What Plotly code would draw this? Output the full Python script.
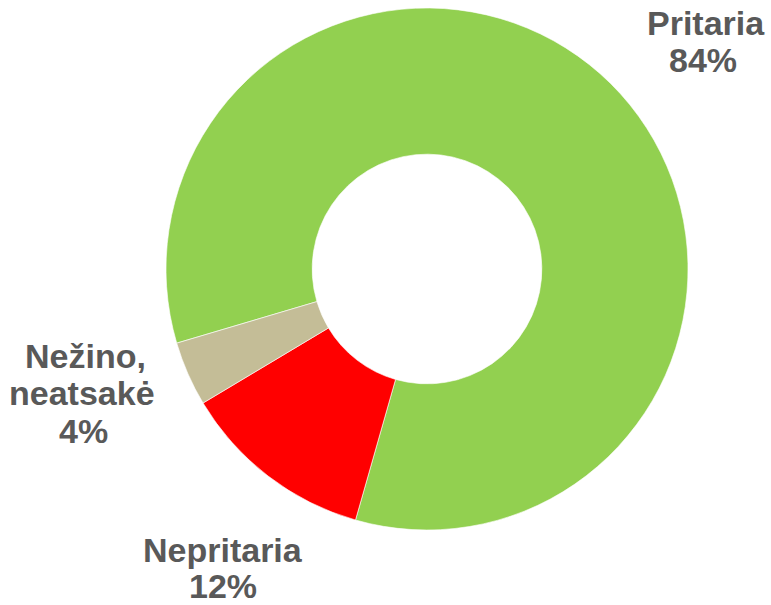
import plotly.graph_objects as go

labels = ["Pritaria", "Nepritaria", "Nežino, neatsakė"]
label_lines = [["Pritaria"], ["Nepritaria"], ["Nežino,", "neatsakė"]]
values = [84, 12, 4]
colors = ["#92D050", "#FF0000", "#C4BD97"]

W, H = 771, 605
cx, cy, r = 427, 269, 261

# pixel positions (window coords) of each text line, per label
line_pos = [
    [(706, 23), (703, 60)],
    [(223, 550), (223, 586)],
    [(85, 356), (82, 393), (83, 431)],
]

fig = go.Figure(go.Pie(
    labels=labels, values=values, sort=False, direction="clockwise",
    rotation=253.5, hole=0.44,
    marker=dict(colors=colors, line=dict(color="rgba(255,255,255,0.6)", width=1)),
    textinfo="none", hoverinfo="label+percent", showlegend=False,
    domain=dict(x=[(cx - r) / W, (cx + r) / W], y=[(H - cy - r) / H, (H - cy + r) / H]),
))

for lines, val, poss in zip(label_lines, values, line_pos):
    texts = lines + [f"{val}%"]
    for t, (px, py) in zip(texts, poss):
        fig.add_annotation(
            x=px / W, y=1 - py / H, xref="paper", yref="paper",
            text=f"<b>{t}</b>", showarrow=False,
            font=dict(family="Liberation Sans, Arial", size=34, color="#595959"),
            align="center", xanchor="center", yanchor="middle",
        )

fig.update_layout(width=W, height=H, margin=dict(l=0, r=0, t=0, b=0),
                  paper_bgcolor="white", plot_bgcolor="white")
fig.write_html("out.html", config={"displayModeBar": False},
               post_script="document.body.style.margin='0';document.body.style.overflow='hidden';")
